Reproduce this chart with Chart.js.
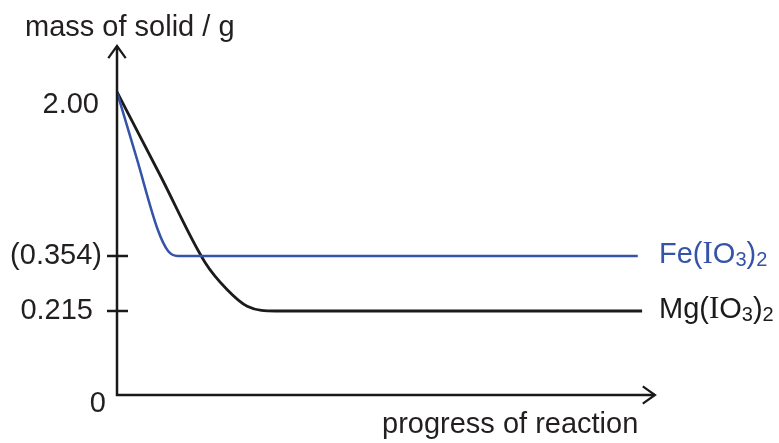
<!DOCTYPE html>
<html>
<head>
<meta charset="utf-8">
<script src="https://cdn.jsdelivr.net/npm/chart.js@4/dist/chart.umd.min.js"></script>
<style>
  html, body { margin: 0; padding: 0; background: #fff; }
  #wrap { width: 779px; height: 443px; position: relative; }
</style>
</head>
<body>
<div id="wrap"><canvas id="massChart"></canvas></div>
<script>
// mass of remaining solid as each iodate decomposes
const progressFe = [0, 3.7, 7.6, 9.5, 11.3, 96.8];
const massFe = [2.00, 1.328, 0.615, 0.404, 0.354, 0.354];
const progressMg = [0, 8.0, 16.4, 20.4, 24.2, 29.5, 97.6];
const massMg = [2.00, 1.167, 0.337, 0.270, 0.227, 0.215, 0.215];

const seriesNames = ['Fe(IO3)2', 'Mg(IO3)2'];
const seriesColors = ['#3553a8', '#1b1b1b'];

const yTickValues = [0, 0.215, 0.354, 2.00];
const yTickLabels = ['0', '0.215', '(0.354)', '2.00'];
const yTickMarks = [0.215, 0.354];

const yTitle = 'mass of solid / g';
const xTitle = 'progress of reaction';

// y axis is not to scale: the low region is stretched, so map values piecewise
class BrokenLinearScale extends Chart.LinearScale {
  warp(v) {
    const vals = this.options.breakValues, fr = this.options.breakFractions;
    if (v <= vals[0]) return fr[0];
    for (let i = 1; i < vals.length; i++) {
      if (v <= vals[i]) {
        const t = (v - vals[i - 1]) / (vals[i] - vals[i - 1]);
        return fr[i - 1] + t * (fr[i] - fr[i - 1]);
      }
    }
    return fr[fr.length - 1];
  }
  getPixelForValue(v) {
    return this.getPixelForDecimal(this.warp(v));
  }
  getValueForPixel(p) {
    const d = this.getDecimalForPixel(p);
    const vals = this.options.breakValues, fr = this.options.breakFractions;
    for (let i = 1; i < fr.length; i++) {
      if (d <= fr[i]) {
        const t = (d - fr[i - 1]) / (fr[i] - fr[i - 1]);
        return vals[i - 1] + t * (vals[i] - vals[i - 1]);
      }
    }
    return vals[vals.length - 1];
  }
}
BrokenLinearScale.id = 'brokenLinear';
BrokenLinearScale.defaults = Chart.LinearScale.defaults;
Chart.register(BrokenLinearScale);

const FONT = '"Liberation Sans", Arial, sans-serif';
const SERIF = '"Liberation Serif", "Times New Roman", serif';
const INK = '#231f20';

function arrowHead(ctx, x, y, dx, dy) {
  // open chevron pointing along (dx, dy)
  const len = 15, spread = 0.62;
  const ang = Math.atan2(dy, dx);
  ctx.beginPath();
  ctx.moveTo(x - len * Math.cos(ang - spread), y - len * Math.sin(ang - spread));
  ctx.lineTo(x, y);
  ctx.lineTo(x - len * Math.cos(ang + spread), y - len * Math.sin(ang + spread));
  ctx.stroke();
}

// chemical formula: digits as subscripts, the letter I in a serif face
function drawFormula(ctx, text, x, y, color) {
  ctx.fillStyle = color;
  ctx.textAlign = 'left';
  ctx.textBaseline = 'alphabetic';
  for (const ch of text) {
    let font = '29px ' + FONT, dy = 0;
    if (/[0-9]/.test(ch)) { font = '20px ' + FONT; dy = 3; }
    else if (ch === 'I') { font = '31px ' + SERIF; }
    ctx.font = font;
    ctx.fillText(ch, x, y + dy);
    x += ctx.measureText(ch).width;
  }
}

const axesPlugin = {
  id: 'sketchAxes',
  afterDatasetsDraw(chart, args, opts) {
    const ctx = chart.ctx;
    const xs = chart.scales.x, ys = chart.scales.y;
    const x0 = xs.getPixelForValue(0), y0 = ys.getPixelForValue(0);
    const top = chart.chartArea.top, right = chart.chartArea.right;
    ctx.save();
    ctx.strokeStyle = '#1a1a1a';
    ctx.lineWidth = 2.5;
    ctx.lineCap = 'butt';
    ctx.lineJoin = 'miter';
    ctx.beginPath();
    ctx.moveTo(x0, top);
    ctx.lineTo(x0, y0);
    ctx.lineTo(right, y0);
    ctx.stroke();
    ctx.lineWidth = 2.2;
    arrowHead(ctx, x0, top, 0, -1);
    arrowHead(ctx, right, y0, 1, 0);

    ctx.lineWidth = 2.5;
    yTickMarks.forEach(v => {
      const py = ys.getPixelForValue(v);
      ctx.beginPath();
      ctx.moveTo(x0 - 10, py);
      ctx.lineTo(x0 + 11, py);
      ctx.stroke();
    });

    ctx.fillStyle = INK;
    ctx.font = '29px ' + FONT;
    ctx.textAlign = 'right';
    ctx.textBaseline = 'middle';
    yTickValues.forEach((v, i) => {
      const s = opts.labelShift[i];
      ctx.fillText(yTickLabels[i], x0 + s[0], ys.getPixelForValue(v) + s[1]);
    });

    ctx.textAlign = 'left';
    ctx.textBaseline = 'alphabetic';
    ctx.fillText(yTitle, 25, 36);
    ctx.fillText(xTitle, 382, 433);

    chart.data.datasets.forEach((ds, i) => {
      const last = ds.data[ds.data.length - 1];
      drawFormula(ctx, seriesNames[i], 659, ys.getPixelForValue(last.y) + 7, seriesColors[i]);
    });
    ctx.restore();
  }
};

const toPoints = (xs, ys) => xs.map((x, i) => ({ x: x, y: ys[i] }));

new Chart(document.getElementById('massChart'), {
  type: 'line',
  data: {
    datasets: [
      {
        label: seriesNames[0],
        data: toPoints(progressFe, massFe),
        borderColor: seriesColors[0],
        borderWidth: 2.5,
        pointRadius: 0,
        cubicInterpolationMode: 'monotone'
      },
      {
        label: seriesNames[1],
        data: toPoints(progressMg, massMg),
        borderColor: seriesColors[1],
        borderWidth: 2.8,
        pointRadius: 0,
        cubicInterpolationMode: 'monotone'
      }
    ]
  },
  options: {
    responsive: true,
    maintainAspectRatio: false,
    animation: false,
    layout: { padding: { left: 117, right: 124, top: 46, bottom: 48 } },
    scales: {
      x: { type: 'linear', min: 0, max: 100, display: false },
      y: {
        type: 'brokenLinear',
        min: 0,
        max: 2.42,
        display: false,
        breakValues: [0, 0.215, 0.354, 2.00, 2.42],
        breakFractions: [0, 0.2407, 0.3983, 0.8682, 1]
      }
    },
    plugins: {
      legend: { display: false },
      tooltip: { enabled: false },
      sketchAxes: { labelShift: [[-11, 9], [-24, 0], [-15, 0], [-18, 13]] }
    }
  },
  plugins: [axesPlugin]
});
</script>
</body>
</html>
